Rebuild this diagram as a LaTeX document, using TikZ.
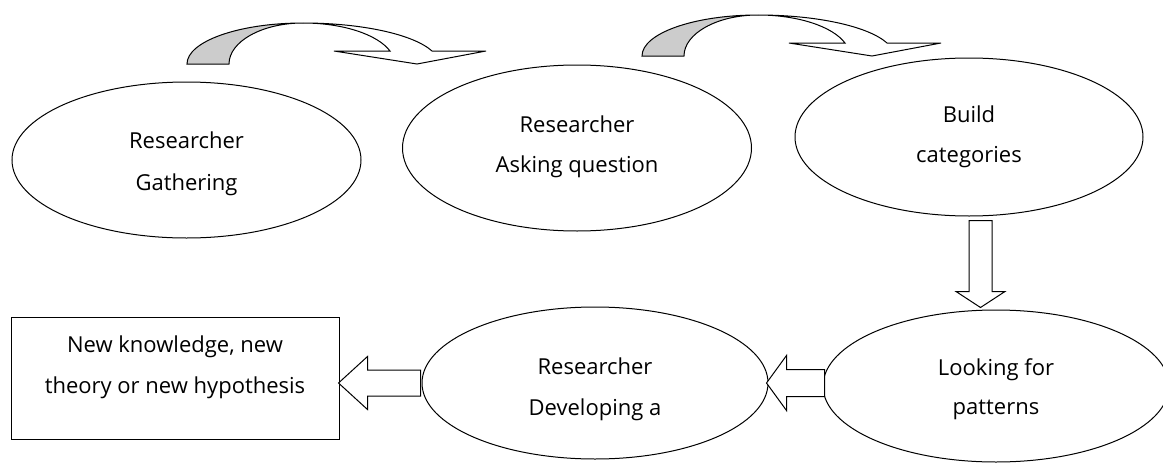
\documentclass[tikz,border=0pt]{standalone}
\usepackage{fontspec}
\setmainfont{Open Sans}
\usetikzlibrary{shapes.geometric,calc}
\tikzset{
  ell/.style={draw, ellipse, line width=1pt, inner sep=0pt, fill=white},
  txt/.style={inner sep=0pt, anchor=base, font=\fontsize{22}{26}\selectfont},
  blk/.style={draw, line width=1pt, fill=white, line join=miter},
  back/.style={draw, line width=1pt, fill=gray!40},
}
\newcommand\curvarr{%
  \path[back] (-116,41) .. controls (-116,18.4) and (-64,0) .. (0,0)
     .. controls (-40.8,0) and (-74,18.4) .. (-74,41) -- cycle;
  \path[blk] (0,0) .. controls (58.5,0) and (110.4,11.3) .. (129,28)
     -- (183,28) -- (114,41) -- (31,28) -- (87,28)
     .. controls (74.4,11.3) and (39.6,0) .. (0,0) -- cycle;
}
\begin{document}
\begin{tikzpicture}[x=1pt,y=-1pt]
\useasboundingbox (0,0) rectangle (1163,466);
\fill[white] (0,0) rectangle (1163,466);

% curved arrows
\begin{scope}[shift={(303,23)}]\curvarr\end{scope}
\begin{scope}[shift={(758,15)}]\curvarr\end{scope}

% ellipses
\node[ell, minimum width=349pt, minimum height=156pt] (e1) at (186.5,160) {};
\node[ell, minimum width=349pt, minimum height=166pt] (e2) at (577,148) {};
\node[ell, minimum width=348pt, minimum height=158pt] (e3) at (969,137) {};
\node[ell, minimum width=346pt, minimum height=152pt] (e4) at (996,386) {};
\node[ell, minimum width=346pt, minimum height=152pt] (e5) at (595,383) {};
\node[draw, line width=1pt, minimum width=328pt, minimum height=122pt, inner sep=0pt] (box) at (175,378) {};

% texts
\node[txt] (t1a) at (186.5,148) {Researcher};
\node[txt] (t1b) at (186.5,190) {Gathering};
\node[txt] (t2a) at (577,132) {Researcher};
\node[txt] (t2b) at (577,172) {Asking question};
\node[txt] (t3a) at (969,122) {Build};
\node[txt] (t3b) at (969,162) {categories};
\node[txt] (t4a) at (996,375) {Looking for};
\node[txt] (t4b) at (996,414) {patterns};
\node[txt] (t5a) at (595,374) {Researcher};
\node[txt] (t5b) at (595,415) {Developing a};
\node[txt] (t6a) at (175,352) {New knowledge, new};
\node[txt] (t6b) at (175,393) {theory or new hypothesis};

% block arrows
\path[blk] let \p1=(e3.south), \p2=(e4.north), \n1={(\x1+\x2)/2-2pt} in
  (\n1-11.5pt,\y1-4pt) -- (\n1-11.5pt,\y2+18pt) -- (\n1-24.5pt,\y2+18pt)
  -- (\n1,\y2+2pt) -- (\n1+24.5pt,\y2+18pt) -- (\n1+11.5pt,\y2+18pt)
  -- (\n1+11.5pt,\y1-4pt) -- cycle;
\path[blk] let \p1=(e4.west), \p2=(e5.east) in
  (\x1+2pt,\y2+13.5pt) -- (\x2+18pt,\y2+13.5pt) -- (\x2+18pt,\y2+27.5pt)
  -- (\x2-2pt,\y2) -- (\x2+18pt,\y2-27.5pt) -- (\x2+18pt,\y2-13.5pt)
  -- (\x1+2pt,\y2-13.5pt) -- cycle;
\path[blk] let \p1=(e5.west), \p2=(box.east) in
  (\x1-1pt,\y1+13pt) -- (\x2+28pt,\y1+13pt) -- (\x2+28pt,\y1+26.5pt)
  -- (\x2-1pt,\y1) -- (\x2+28pt,\y1-26.5pt) -- (\x2+28pt,\y1-13pt)
  -- (\x1-1pt,\y1-13pt) -- cycle;
\end{tikzpicture}
\end{document}
